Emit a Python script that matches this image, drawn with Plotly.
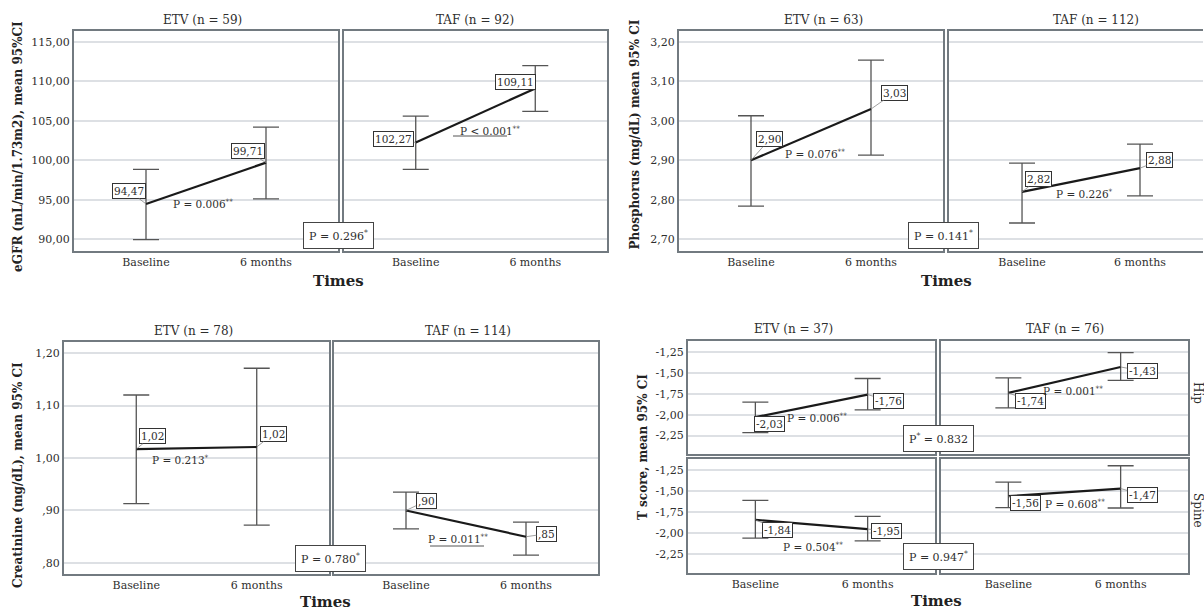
import plotly.graph_objects as go

W, H = 1204, 610
FONT = "DejaVu Serif"

def px(x):
    return x / W

def py(y):
    return 1 - y / H

# ---------------- data ----------------
times = ["Baseline", "6 months"]

egfr_etv_mean = [94.47, 99.71]
egfr_etv_lo = [89.95, 95.1]
egfr_etv_hi = [98.85, 104.2]
egfr_taf_mean = [102.27, 109.11]
egfr_taf_lo = [98.85, 106.2]
egfr_taf_hi = [105.6, 112.0]

phos_etv_mean = [2.90, 3.03]
phos_etv_lo = [2.784, 2.913]
phos_etv_hi = [3.013, 3.154]
phos_taf_mean = [2.82, 2.88]
phos_taf_lo = [2.741, 2.81]
phos_taf_hi = [2.893, 2.941]

creat_etv_mean = [1.017, 1.021]
creat_etv_lo = [0.913, 0.872]
creat_etv_hi = [1.12, 1.171]
creat_taf_mean = [0.90, 0.85]
creat_taf_lo = [0.865, 0.815]
creat_taf_hi = [0.935, 0.878]

hip_etv_mean = [-2.03, -1.76]
hip_etv_lo = [-2.215, -1.944]
hip_etv_hi = [-1.85, -1.568]
hip_taf_mean = [-1.74, -1.43]
hip_taf_lo = [-1.92, -1.59]
hip_taf_hi = [-1.56, -1.26]

spine_etv_mean = [-1.84, -1.95]
spine_etv_lo = [-2.057, -2.09]
spine_etv_hi = [-1.61, -1.80]
spine_taf_mean = [-1.56, -1.47]
spine_taf_lo = [-1.696, -1.70]
spine_taf_hi = [-1.395, -1.20]

egfr_ticks = [90, 95, 100, 105, 110, 115]
egfr_ticktext = ["90,00", "95,00", "100,00", "105,00", "110,00", "115,00"]
phos_ticks = [2.7, 2.8, 2.9, 3.0, 3.1, 3.2]
phos_ticktext = ["2,70", "2,80", "2,90", "3,00", "3,10", "3,20"]
creat_ticks = [0.8, 0.9, 1.0, 1.1, 1.2]
creat_ticktext = [",80", ",90", "1,00", "1,10", "1,20"]
t_ticks = [-2.25, -2.0, -1.75, -1.5, -1.25]
t_ticktext = ["-2,25", "-2,00", "-1,75", "-1,50", "-1,25"]

group_titles = ["ETV (n = 59)", "TAF (n = 92)", "ETV (n = 63)", "TAF (n = 112)",
                "ETV (n = 78)", "TAF (n = 114)", "ETV (n = 37)", "TAF (n = 76)"]
ytitles = ["eGFR (mL/min/1.73m2), mean 95%CI", "Phosphorus (mg/dL) mean 95% CI",
           "Creatinine (mg/dL), mean 95% CI", "T score, mean 95% CI"]
within_p = ["P = 0.006<sup>**</sup>", "P < 0.001<sup>**</sup>",
            "P = 0.076<sup>**</sup>", "P = 0.226<sup>*</sup>",
            "P = 0.213<sup>*</sup>", "P = 0.011<sup>**</sup>",
            "P = 0.006<sup>**</sup>", "P = 0.001<sup>**</sup>",
            "P = 0.504<sup>**</sup>", "P = 0.608<sup>**</sup>"]
between_p = ["P = 0.296<sup>*</sup>", "P = 0.141<sup>*</sup>", "P = 0.780<sup>*</sup>",
             "P<sup>*</sup> = 0.832", "P = 0.947<sup>*</sup>"]
row_labels = ["Hip", "Spine"]

# ---------------- layout of panels ----------------
STD_X = (-0.6, 1.6)
panels = [
    dict(m=egfr_etv_mean, lo=egfr_etv_lo, hi=egfr_etv_hi, xd=(74, 338), yd=(31, 251), xr=STD_X,
         yr=(88.5, 116.4), tv=egfr_ticks, tt=egfr_ticktext, showy=True, showx=True,
         offs=[(-17, -13), (-18.5, -11.5)], p=(202.5, 203)),
    dict(m=egfr_taf_mean, lo=egfr_taf_lo, hi=egfr_taf_hi, xd=(344, 607), yd=(31, 251), xr=STD_X,
         yr=(88.5, 116.4), tv=egfr_ticks, tt=egfr_ticktext, showy=False, showx=True,
         offs=[(-22, -3), (-19.5, -6)], p=(489.5, 130)),
    dict(m=phos_etv_mean, lo=phos_etv_lo, hi=phos_etv_hi, xd=(679, 943), yd=(31, 251), xr=STD_X,
         yr=(2.67, 3.228), tv=phos_ticks, tt=phos_ticktext, showy=True, showx=True,
         offs=[(18.5, -21), (23.5, -16.5)], p=(815, 153)),
    dict(m=phos_taf_mean, lo=phos_taf_lo, hi=phos_taf_hi, xd=(949, 1203), yd=(31, 251), xr=(-0.619, 1.534),
         yr=(2.67, 3.228), tv=phos_ticks, tt=phos_ticktext, showy=False, showx=True,
         offs=[(16.5, -12.7), (19.5, -8)], p=(1084, 193), nomirror=True),
    dict(m=creat_etv_mean, lo=creat_etv_lo, hi=creat_etv_hi, xd=(64, 329), yd=(342, 574), xr=STD_X,
         yr=(0.779, 1.221), tv=creat_ticks, tt=creat_ticktext, showy=True, showx=True,
         offs=[(16, -13), (16.5, -13)], p=(180, 460)),
    dict(m=creat_taf_mean, lo=creat_taf_lo, hi=creat_taf_hi, xd=(334, 598), yd=(342, 574), xr=STD_X,
         yr=(0.779, 1.221), tv=creat_ticks, tt=creat_ticktext, showy=False, showx=True,
         offs=[(20, -9.5), (20.5, -3)], p=(457.5, 538)),
    dict(m=hip_etv_mean, lo=hip_etv_lo, hi=hip_etv_hi, xd=(688, 935), yd=(341, 454), xr=STD_X,
         yr=(-2.47, -1.12), tv=t_ticks, tt=t_ticktext, showy=True, showx=False,
         offs=[(14.5, 7), (20.5, 6)], p=(817, 417)),
    dict(m=hip_taf_mean, lo=hip_taf_lo, hi=hip_taf_hi, xd=(941, 1188), yd=(341, 454), xr=STD_X,
         yr=(-2.47, -1.12), tv=t_ticks, tt=t_ticktext, showy=False, showx=False,
         offs=[(22, 8), (21.5, 4)], p=(1072.5, 390)),
    dict(m=spine_etv_mean, lo=spine_etv_lo, hi=spine_etv_hi, xd=(688, 935), yd=(459, 573), xr=STD_X,
         yr=(-2.47, -1.12), tv=t_ticks, tt=t_ticktext, showy=True, showx=True,
         offs=[(22.5, 10), (19, 1.5)], p=(812.5, 546)),
    dict(m=spine_taf_mean, lo=spine_taf_lo, hi=spine_taf_hi, xd=(941, 1188), yd=(459, 573), xr=STD_X,
         yr=(-2.47, -1.12), tv=t_ticks, tt=t_ticktext, showy=False, showx=True,
         offs=[(17, 7), (21.5, 6)], p=(1075, 503)),
]

def fmt(v):
    s = f"{v:.2f}".replace(".", ",")
    if s.startswith("0,"):
        s = s[1:]
    if s.startswith("-0,"):
        s = "-" + s[2:]
    return s

fig = go.Figure()
layout = dict(width=W, height=H, margin=dict(l=0, r=0, t=0, b=0),
              paper_bgcolor="white", plot_bgcolor="white", showlegend=False,
              font=dict(family=FONT, size=11, color="#333333"))
annotations = []
shapes = []

BORDER = "#727a80"
GRID = "#dde0e4"
TXT = "#2e2e2e"

def paper_text(cx, cy, text, **kw):
    d = dict(x=px(cx), y=py(cy), xref="paper", yref="paper", text=text,
             showarrow=False, xanchor="center", yanchor="middle")
    d.update(kw)
    return d

for i, p in enumerate(panels, start=1):
    suf = "" if i == 1 else str(i)
    xa, ya = "x" + suf, "y" + suf
    layout["xaxis" + suf] = dict(
        domain=[px(p["xd"][0]), px(p["xd"][1])], anchor=ya, range=list(p["xr"]),
        type="category", showgrid=False, zeroline=False, ticks="",
        showline=True, linecolor=BORDER, linewidth=2, mirror=True,
        showticklabels=p["showx"], tickfont=dict(family=FONT, size=11, color=TXT),
        fixedrange=True)
    layout["yaxis" + suf] = dict(
        domain=[py(p["yd"][1]), py(p["yd"][0])], anchor=xa, range=list(p["yr"]),
        tickvals=p["tv"], ticktext=p["tt"], showgrid=True, gridcolor=GRID, gridwidth=1.5,
        zeroline=False, ticks="", showline=True, linecolor=BORDER, linewidth=2,
        mirror=(False if p.get("nomirror") else True),
        showticklabels=p["showy"], tickfont=dict(family=FONT, size=11, color=TXT),
        fixedrange=True)
    m, lo, hi = p["m"], p["lo"], p["hi"]
    fig.add_trace(go.Scatter(
        x=times, y=m, xaxis=xa, yaxis=ya, mode="lines",
        line=dict(color="#1a1a1a", width=2.2),
        error_y=dict(type="data", symmetric=False,
                     array=[h - v for h, v in zip(hi, m)],
                     arrayminus=[v - l for v, l in zip(m, lo)],
                     color="#555555", thickness=1.3, width=13),
        hoverinfo="skip", showlegend=False))
    for j in range(2):
        dx, dy = p["offs"][j]
        annotations.append(dict(
            x=times[j], y=m[j], xref=xa, yref=ya, text=fmt(m[j]),
            showarrow=True, arrowhead=0, arrowwidth=0.8, arrowcolor="#888888",
            ax=dx, ay=dy, standoff=0, bordercolor="#333333", borderwidth=1,
            borderpad=1, bgcolor="white", xanchor="center", yanchor="middle",
            font=dict(family=FONT, size=10.5, color=TXT)))
    annotations.append(paper_text(p["p"][0], p["p"][1], within_p[i - 1],
                                  font=dict(family=FONT, size=10.5, color=TXT)))

# underlines
for (x0, x1, y) in [(453, 507, 136), (430, 484, 546)]:
    shapes.append(dict(type="line", xref="paper", yref="paper",
                       x0=px(x0), x1=px(x1), y0=py(y), y1=py(y),
                       line=dict(color="#555555", width=1)))

# between-group P boxes
for txt, (cx, cy) in zip(between_p, [(338, 235.5), (943.5, 235.5), (330, 558),
                                    (938.5, 438), (938.5, 556)]):
    annotations.append(paper_text(cx, cy, txt, bordercolor="#444444", borderwidth=1,
                                  borderpad=5, bgcolor="white",
                                  font=dict(family=FONT, size=11, color=TXT)))

# group titles
for txt, (cx, cy) in zip(group_titles, [(202.5, 20), (474.5, 20), (823.7, 20), (1095.8, 20),
                                       (193.7, 330.7), (467.8, 330.7), (793.3, 329), (1065.3, 329)]):
    annotations.append(paper_text(cx, cy, txt, font=dict(family=FONT, size=12, color=TXT)))

# "Times" x titles
for (cx, cy) in [(338, 281), (946.5, 281), (325, 602), (936, 601)]:
    annotations.append(paper_text(cx, cy, "<b>Times</b>",
                                  font=dict(family=FONT, size=15, color="#222222")))

# y titles
for txt, (cx, cy) in zip(ytitles, [(18, 147), (634, 134.5), (18, 475), (643, 447)]):
    annotations.append(paper_text(cx, cy, "<b>" + txt + "</b>", textangle=-90,
                                  font=dict(family=FONT, size=12, color="#222222")))

# row labels
for txt, (cx, cy) in zip(row_labels, [(1198, 393), (1198, 510)]):
    annotations.append(paper_text(cx, cy, txt, textangle=90,
                                  font=dict(family=FONT, size=12, color=TXT)))

layout["annotations"] = annotations
layout["shapes"] = shapes
fig.update_layout(**layout)
fig.write_html("out.html")
